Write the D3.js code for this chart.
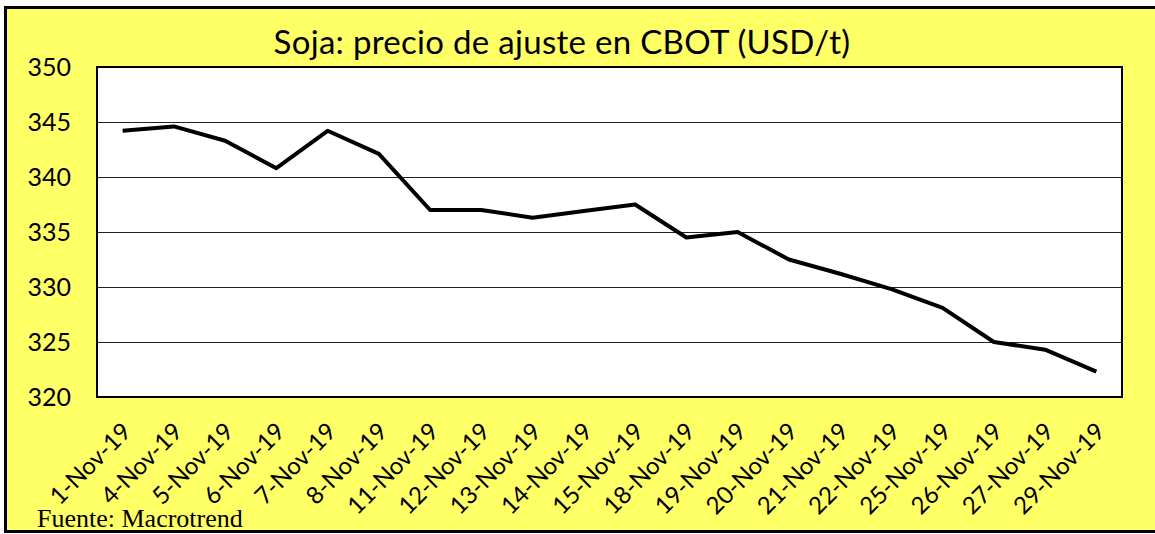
<!DOCTYPE html>
<meta charset="utf-8">
<script src="https://d3js.org/d3.v7.min.js"></script>
<style>
  body { margin: 0; background: #fff; }
</style>
<body>
<script>
  // data
  var dates = ["1-Nov-19", "4-Nov-19", "5-Nov-19", "6-Nov-19", "7-Nov-19", "8-Nov-19",
    "11-Nov-19", "12-Nov-19", "13-Nov-19", "14-Nov-19", "15-Nov-19", "18-Nov-19",
    "19-Nov-19", "20-Nov-19", "21-Nov-19", "22-Nov-19", "25-Nov-19", "26-Nov-19",
    "27-Nov-19", "29-Nov-19"];
  var prices = [344.2, 344.6, 343.3, 340.8, 344.2, 342.1, 337.0, 337.0, 336.3, 336.9,
    337.5, 334.5, 335.0, 332.5, 331.2, 329.8, 328.1, 325.0, 324.3, 322.3];
  var yTicks = [320, 325, 330, 335, 340, 345, 350];

  var W = 1155, H = 534;
  var plot = { left: 97, top: 67, right: 1122, bottom: 397 };

  var svg = d3.select("body").append("svg")
    .attr("width", W)
    .attr("height", H);

  // yellow chart area with black frame
  svg.append("rect")
    .attr("x", 5.5).attr("y", 7.5)
    .attr("width", W + 10).attr("height", 524)
    .attr("fill", "#ffff66")
    .attr("stroke", "#000")
    .attr("stroke-width", 3);

  var x = d3.scaleBand()
    .domain(dates)
    .range([plot.left, plot.right]);

  var y = d3.scaleLinear()
    .domain([320, 350])
    .range([plot.bottom, plot.top]);

  // plot background
  svg.append("rect")
    .attr("x", plot.left).attr("y", plot.top)
    .attr("width", plot.right - plot.left)
    .attr("height", plot.bottom - plot.top)
    .attr("fill", "#fff");

  // gridlines
  svg.append("g").selectAll("line")
    .data(yTicks.slice(1, -1))
    .enter().append("line")
    .attr("x1", plot.left).attr("x2", plot.right)
    .attr("y1", d => Math.round(y(d)) + 0.5)
    .attr("y2", d => Math.round(y(d)) + 0.5)
    .attr("stroke", "#222")
    .attr("stroke-width", 1);

  // plot frame
  svg.append("rect")
    .attr("x", plot.left).attr("y", plot.top)
    .attr("width", plot.right - plot.left)
    .attr("height", plot.bottom - plot.top)
    .attr("fill", "none")
    .attr("stroke", "#000")
    .attr("stroke-width", 2);

  // y axis labels
  var yAxis = svg.append("g")
    .attr("transform", "translate(" + (plot.left - 26) + ",0)")
    .call(d3.axisLeft(y).tickValues(yTicks).tickSize(0).tickPadding(0));
  yAxis.select(".domain").remove();
  yAxis.selectAll("text")
    .attr("font-family", "Lato, 'Open Sans', sans-serif")
    .attr("font-size", 25)
    .attr("fill", "#000");

  // x axis labels
  var xAxis = svg.append("g")
    .attr("transform", "translate(0," + plot.bottom + ")")
    .call(d3.axisBottom(x).tickSize(0).tickPadding(0));
  xAxis.select(".domain").remove();
  xAxis.selectAll("text")
    .attr("font-family", "Lato, 'Open Sans', sans-serif")
    .attr("font-size", 24)
    .attr("fill", "#000")
    .attr("text-anchor", "end")
    .attr("dy", 0)
    .attr("transform", "translate(10,36) rotate(-45)");

  // price line
  var line = d3.line()
    .x((d, i) => x(dates[i]) + x.bandwidth() / 2)
    .y(d => y(d));

  svg.append("path")
    .datum(prices)
    .attr("d", line)
    .attr("fill", "none")
    .attr("stroke", "#000")
    .attr("stroke-width", 4)
    .attr("stroke-linejoin", "round");

  // title
  svg.append("text")
    .attr("x", 562).attr("y", 54)
    .attr("text-anchor", "middle")
    .attr("font-family", "Lato, 'Open Sans', sans-serif")
    .attr("font-size", 33)
    .attr("letter-spacing", 0.3)
    .text("Soja: precio de ajuste en CBOT (USD/t)");

  // source
  svg.append("text")
    .attr("x", 37).attr("y", 527)
    .attr("font-family", "'Liberation Serif', 'Times New Roman', serif")
    .attr("font-size", 26)
    .text("Fuente: Macrotrend");
</script>
</body>
